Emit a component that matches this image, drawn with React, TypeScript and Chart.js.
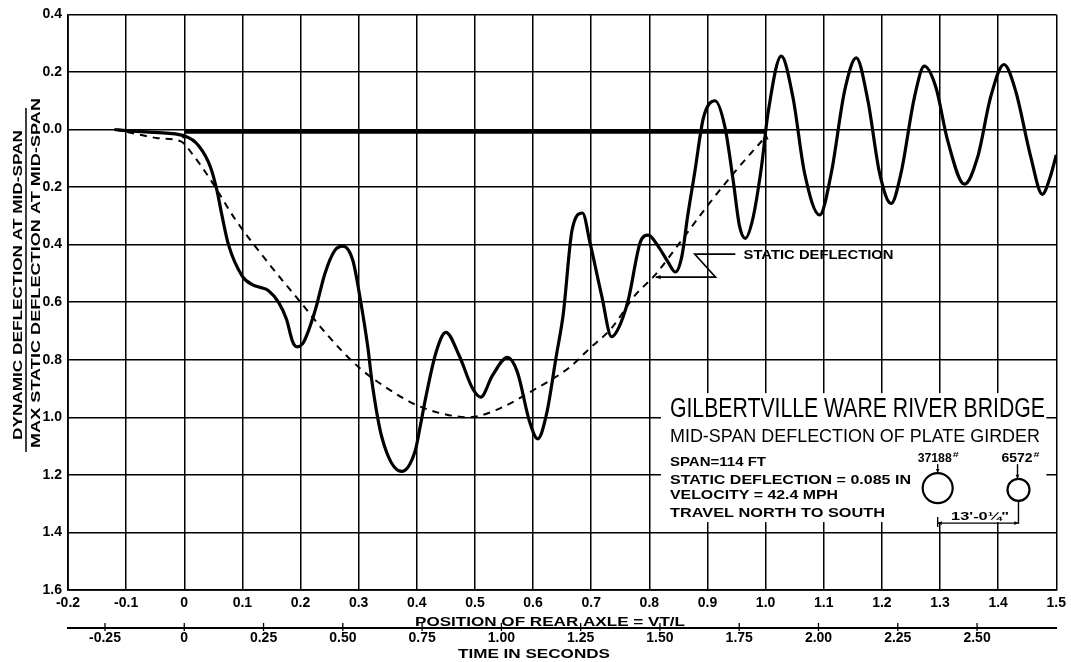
import React, { useEffect, useRef } from "react";
import { Chart, registerables } from "chart.js";

Chart.register(...registerables);

// ---------------- DATA ----------------
const dynamicX = [-0.12, -0.1, -0.05, 0, 0.025, 0.045, 0.056, 0.065, 0.076, 0.1, 0.118, 0.13, 0.145, 0.162, 0.176, 0.186, 0.194, 0.205, 0.225, 0.242, 0.259, 0.273, 0.29, 0.302, 0.316, 0.323, 0.34, 0.374, 0.397, 0.406, 0.415, 0.433, 0.45, 0.473, 0.496, 0.51, 0.53, 0.556, 0.573, 0.594, 0.608, 0.623, 0.64, 0.652, 0.667, 0.685, 0.698, 0.718, 0.735, 0.747, 0.764, 0.784, 0.798, 0.815, 0.832, 0.845, 0.856, 0.866, 0.878, 0.893, 0.913, 0.93, 0.944, 0.955, 0.965, 0.978, 0.993, 1.004, 1.027, 1.047, 1.067, 1.093, 1.113, 1.136, 1.156, 1.176, 1.196, 1.216, 1.233, 1.256, 1.273, 1.293, 1.313, 1.342, 1.365, 1.387, 1.41, 1.43, 1.456, 1.476, 1.49, 1.5];
const dynamicY = [0, 0.004, 0.01, 0.022, 0.057, 0.13, 0.21, 0.3, 0.4, 0.51, 0.54, 0.548, 0.56, 0.6, 0.66, 0.735, 0.755, 0.74, 0.63, 0.5, 0.42, 0.405, 0.455, 0.58, 0.76, 0.878, 1.07, 1.188, 1.118, 1.03, 0.935, 0.775, 0.705, 0.786, 0.9, 0.93, 0.855, 0.792, 0.843, 1.015, 1.075, 0.99, 0.786, 0.64, 0.35, 0.29, 0.394, 0.577, 0.72, 0.69, 0.59, 0.394, 0.367, 0.405, 0.46, 0.495, 0.44, 0.3, 0.15, -0.04, -0.1, -0.009, 0.174, 0.334, 0.378, 0.31, 0.128, -0.055, -0.255, -0.112, 0.151, 0.297, 0.151, -0.135, -0.249, -0.1, 0.151, 0.257, 0.151, -0.112, -0.22, -0.146, 0.037, 0.19, 0.094, -0.112, -0.226, -0.135, 0.094, 0.225, 0.162, 0.088];

const staticX = [-0.12, -0.1, -0.045, -0.005, 0.012, 0.047, 0.087, 0.145, 0.2, 0.248, 0.3, 0.35, 0.4, 0.45, 0.49, 0.536, 0.6, 0.663, 0.695, 0.735, 0.775, 0.81, 0.85, 0.9, 0.95, 1.0];
const staticY = [0, 0.008, 0.03, 0.042, 0.08, 0.18, 0.31, 0.465, 0.6, 0.718, 0.826, 0.9, 0.958, 0.99, 1.0, 0.975, 0.906, 0.826, 0.765, 0.69, 0.577, 0.505, 0.4, 0.265, 0.14, 0.025];

// rear axle on the span (entry to exit)
const spanBarX = [0, 1.0];
const spanBarY = [0.007, 0.007];

const xTickValues = [-0.2, -0.1, 0, 0.1, 0.2, 0.3, 0.4, 0.5, 0.6, 0.7, 0.8, 0.9, 1.0, 1.1, 1.2, 1.3, 1.4, 1.5];
const yTickValues = [-0.4, -0.2, 0, 0.2, 0.4, 0.6, 0.8, 1.0, 1.2, 1.4, 1.6];
const timeTickValues = [-0.25, 0, 0.25, 0.5, 0.75, 1.0, 1.25, 1.5, 1.75, 2.0, 2.25, 2.5];

const spanFt = 114;
const velocityMph = 42.4;
const secondsPerSpan = spanFt / ((velocityMph * 5280) / 3600);

const titleMain = "GILBERTVILLE WARE RIVER BRIDGE";
const titleSub = "MID-SPAN DEFLECTION OF PLATE GIRDER";
const infoLines = ["SPAN=114 FT", "STATIC DEFLECTION = 0.085 IN", "VELOCITY = 42.4 MPH", "TRAVEL NORTH TO SOUTH"];
const axleLoads = ["37188", "6572"];
const axleSpacing = "13'-0¼\"";
const yTitleTop = "DYNAMIC DEFLECTION AT MID-SPAN";
const yTitleBottom = "MAX STATIC DEFLECTION AT MID-SPAN";
const xTitle = "POSITION OF REAR AXLE = VT/L";
const timeTitle = "TIME IN SECONDS";
const staticLabel = "STATIC DEFLECTION";

// annotation anchors in data units
const boxX = [0.82, 1.483];
const boxY = [0.916, 1.364];
const leaderX = [0.948, 0.878, 0.914, 0.811];
const leaderY = [0.433, 0.433, 0.513, 0.513];
const staticLabelPos = [0.962, 0.451];
const wheelX = [1.296, 1.435];
const wheelY = [1.246, 1.252];

const FONT = "'Liberation Sans', 'DejaVu Sans', Arial, sans-serif";

function fitText(ctx: CanvasRenderingContext2D, text: string, x: number, y: number, width: number, font: string, align: string = "left") {
  ctx.save();
  ctx.font = font;
  ctx.textBaseline = "alphabetic";
  ctx.textAlign = "left";
  const w = ctx.measureText(text).width;
  const sx = width / w;
  ctx.translate(x, y);
  ctx.scale(sx, 1);
  let ox = 0;
  if (align === "center") ox = -w / 2;
  else if (align === "right") ox = -w;
  ctx.fillText(text, ox, 0);
  ctx.restore();
}

function arrowHead(ctx: CanvasRenderingContext2D, x: number, y: number, dir: string, s: number) {
  ctx.beginPath();
  if (dir === "up") {
    ctx.moveTo(x, y); ctx.lineTo(x - s * 0.6, y + s * 1.4); ctx.lineTo(x + s * 0.6, y + s * 1.4);
  } else if (dir === "down") {
    ctx.moveTo(x, y); ctx.lineTo(x - s * 0.6, y - s * 1.4); ctx.lineTo(x + s * 0.6, y - s * 1.4);
  } else if (dir === "left") {
    ctx.moveTo(x, y); ctx.lineTo(x + s * 1.4, y - s * 0.6); ctx.lineTo(x + s * 1.4, y + s * 0.6);
  } else {
    ctx.moveTo(x, y); ctx.lineTo(x - s * 1.4, y - s * 0.6); ctx.lineTo(x - s * 1.4, y + s * 0.6);
  }
  ctx.closePath();
  ctx.fill();
}

const annotations = {
  id: "annotations",
  beforeDatasetsDraw(chart: any) {
    const { ctx, scales } = chart;
    const x = scales.x, y = scales.y;
    const L = x.getPixelForValue(boxX[0]);
    const R = x.getPixelForValue(boxX[1]);
    const T = y.getPixelForValue(boxY[0]);
    const B = y.getPixelForValue(boxY[1]);
    ctx.save();
    ctx.fillStyle = "#fff";
    ctx.fillRect(L, T, R - L, B - T);
    ctx.restore();
  },
  afterDatasetsDraw(chart: any) {
    const { ctx, scales } = chart;
    const x = scales.x, y = scales.y, xt = scales.xt;
    const px = (v: number) => x.getPixelForValue(v);
    const py = (v: number) => y.getPixelForValue(v);
    ctx.save();
    ctx.fillStyle = "#000";
    ctx.strokeStyle = "#000";

    // arrowheads at bridge entry / exit
    arrowHead(ctx, px(spanBarX[0]), py(spanBarY[0]) + 1, "up", 4);
    arrowHead(ctx, px(spanBarX[1]), py(spanBarY[1]) + 1, "up", 5);

    // static deflection leader
    ctx.lineWidth = 1.6;
    ctx.beginPath();
    ctx.moveTo(px(leaderX[0]), py(leaderY[0]));
    for (let i = 1; i < leaderX.length; i++) ctx.lineTo(px(leaderX[i]), py(leaderY[i]));
    ctx.stroke();
    arrowHead(ctx, px(leaderX[3]), py(leaderY[3]), "left", 3.5);
    fitText(ctx, staticLabel, px(staticLabelPos[0]), py(staticLabelPos[1]), 150, `bold 13px ${FONT}`);

    // info box text
    const L = px(boxX[0]);
    const T = py(boxY[0]);
    fitText(ctx, titleMain, L + 9, T + 24, 375, `27px ${FONT}`);
    fitText(ctx, titleSub, L + 9, T + 49, 370, `18px ${FONT}`);
    const infoW = [96, 241, 168, 215];
    const infoDy = [73, 91, 106, 124];
    infoLines.forEach((t, i) => fitText(ctx, t, L + 9, T + infoDy[i], infoW[i], `bold 13px ${FONT}`));

    // wheels
    const rBig = 15, rSmall = 11;
    const w1x = px(wheelX[0]), w1y = py(wheelY[0]);
    const w2x = px(wheelX[1]), w2y = py(wheelY[1]);
    ctx.lineWidth = 2.2;
    ctx.beginPath(); ctx.arc(w1x, w1y, rBig, 0, Math.PI * 2); ctx.stroke();
    ctx.beginPath(); ctx.arc(w2x, w2y, rSmall, 0, Math.PI * 2); ctx.stroke();
    const lblY = w1y - 26;
    fitText(ctx, axleLoads[0], w1x - 20, lblY, 34, `bold 13px ${FONT}`);
    fitText(ctx, "#", w1x + 15, lblY - 5, 6, `bold 8px ${FONT}`);
    fitText(ctx, axleLoads[1], w2x - 17, lblY, 31, `bold 13px ${FONT}`);
    fitText(ctx, "#", w2x + 15, lblY - 5, 6, `bold 8px ${FONT}`);
    ctx.lineWidth = 1.4;
    ctx.beginPath(); ctx.moveTo(w1x, lblY + 2); ctx.lineTo(w1x, w1y - rBig - 1); ctx.stroke();
    arrowHead(ctx, w1x, w1y - rBig, "down", 3);
    ctx.beginPath(); ctx.moveTo(w2x - 1, lblY + 2); ctx.lineTo(w2x - 1, w2y - rSmall - 1); ctx.stroke();
    arrowHead(ctx, w2x - 1, w2y - rSmall, "down", 3);
    const dimY = py(boxY[1]) + 1;
    ctx.beginPath();
    ctx.moveTo(w2x, w2y + rSmall); ctx.lineTo(w2x, dimY); ctx.lineTo(w1x, dimY);
    ctx.moveTo(w1x, dimY - 6); ctx.lineTo(w1x, dimY + 4);
    ctx.stroke();
    arrowHead(ctx, w2x, dimY, "right", 3);
    arrowHead(ctx, w1x, dimY, "left", 3);
    fitText(ctx, axleSpacing, (w1x + w2x) / 2 + 2, dimY - 3, 58, `bold 11px ${FONT}`, "center");

    // time axis cross ticks
    ctx.lineWidth = 1.3;
    timeTickValues.forEach((v) => {
      const X = xt.getPixelForValue(v);
      ctx.beginPath(); ctx.moveTo(X, xt.top - 5); ctx.lineTo(X, xt.top + 3); ctx.stroke();
    });

    // axis titles
    fitText(ctx, xTitle, 550, xt.top - 2, 270, `bold 13px ${FONT}`, "center");
    fitText(ctx, timeTitle, 534, xt.top + 30, 152, `bold 13px ${FONT}`, "center");

    // y title as fraction
    const drawRot = (t: string, cx: number, cy: number, len: number) => {
      ctx.save();
      ctx.translate(cx, cy);
      ctx.rotate(-Math.PI / 2);
      fitText(ctx, t, 0, 4.5, len, `bold 12px ${FONT}`, "center");
      ctx.restore();
    };
    drawRot(yTitleTop, 17, 285, 310);
    ctx.lineWidth = 1.5;
    ctx.beginPath(); ctx.moveTo(26, 108); ctx.lineTo(26, 452); ctx.stroke();
    drawRot(yTitleBottom, 35, 273, 350);
    ctx.restore();
  },
};

export default function App() {
  const ref = useRef<HTMLCanvasElement | null>(null);
  useEffect(() => {
    if (!ref.current) return;
    Chart.defaults.font.family = FONT;
    Chart.defaults.color = "#000";
    const chart = new Chart(ref.current, {
      type: "line",
      data: {
        datasets: [
          {
            label: "Dynamic deflection",
            data: dynamicX.map((v, i) => ({ x: v, y: dynamicY[i] })),
            borderColor: "#000",
            borderWidth: 3.2,
            pointRadius: 0,
            cubicInterpolationMode: "monotone",
            fill: false,
          },
          {
            label: "Static deflection",
            data: staticX.map((v, i) => ({ x: v, y: staticY[i] })),
            borderColor: "#000",
            borderWidth: 2,
            borderDash: [7, 6],
            pointRadius: 0,
            cubicInterpolationMode: "monotone",
            fill: false,
          },
          {
            label: "Rear axle on span",
            data: spanBarX.map((v, i) => ({ x: v, y: spanBarY[i] })),
            borderColor: "#000",
            borderWidth: 4.5,
            pointRadius: 0,
            fill: false,
          },
        ],
      },
      options: {
        responsive: false,
        animation: false,
        devicePixelRatio: 1,
        layout: { padding: { top: 14, right: 11, left: 0, bottom: 0 } },
        plugins: { legend: { display: false }, tooltip: { enabled: false } },
        scales: {
          x: {
            type: "linear",
            position: "bottom",
            weight: 0,
            min: -0.2,
            max: 1.5,
            afterBuildTicks: (s: any) => { s.ticks = xTickValues.map((v) => ({ value: v })); },
            afterFit: (s: any) => { s.height = 38; },
            grid: { color: "#000", lineWidth: 1.5, drawTicks: false },
            border: { color: "#000", width: 1.8 },
            ticks: {
              padding: 5,
              maxRotation: 0,
              autoSkip: false,
              font: { size: 14, weight: "bold" },
              callback: (v: any) => (Math.abs(v) < 1e-9 ? "0" : Number(v).toFixed(1)),
            },
          },
          xt: {
            type: "linear",
            position: "bottom",
            weight: 1,
            min: -0.2 * secondsPerSpan,
            max: 1.5 * secondsPerSpan,
            afterBuildTicks: (s: any) => { s.ticks = timeTickValues.map((v) => ({ value: v })); },
            afterFit: (s: any) => { s.height = 34; },
            grid: { display: false, drawTicks: false },
            border: { display: true, color: "#000", width: 2 },
            ticks: {
              padding: 2,
              maxRotation: 0,
              autoSkip: false,
              font: { size: 14, weight: "bold" },
              callback: (v: any) => (Math.abs(v) < 1e-9 ? "0" : Number(v).toFixed(2)),
            },
          },
          y: {
            type: "linear",
            reverse: true,
            min: -0.4,
            max: 1.6,
            afterBuildTicks: (s: any) => { s.ticks = yTickValues.map((v) => ({ value: v })); },
            afterFit: (s: any) => { s.width = 68; },
            grid: { color: "#000", lineWidth: 1.5, drawTicks: false },
            border: { color: "#000", width: 1.8 },
            ticks: {
              padding: 6,
              autoSkip: false,
              font: { size: 14, weight: "bold" },
              callback: (v: any) => Math.abs(Number(v)).toFixed(1),
            },
          },
        },
      } as any,
      plugins: [annotations],
    });
    return () => chart.destroy();
  }, []);

  return (
    <div style={{ position: "absolute", left: 0, top: 0, width: 1071, height: 662, background: "#fff" }}>
      <canvas ref={ref} width={1071} height={662} style={{ display: "block" }} />
    </div>
  );
}
